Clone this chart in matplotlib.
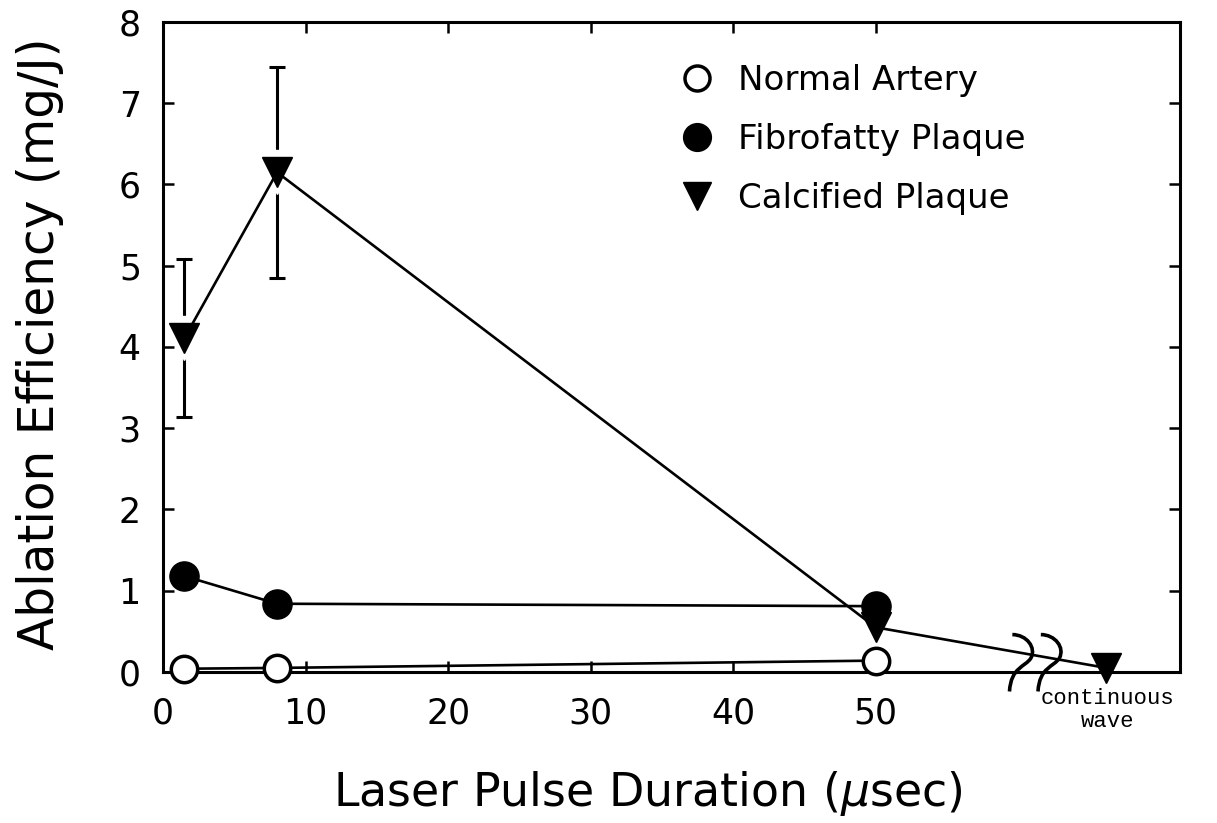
import matplotlib
matplotlib.use("Agg")
import matplotlib.pyplot as plt
from matplotlib.lines import Line2D
from matplotlib.path import Path
from matplotlib.patches import PathPatch

# ablation efficiency (mg/J) vs pulse duration (usec)
pulse_us = [1.5, 8, 50]
normal = [0.04, 0.05, 0.14]
fibrofatty = [1.18, 0.84, 0.81]
calcified = [4.11, 6.15, 0.55]
calcified_err = [0.97, 1.30, 0.0]
cw_pos = 66.2          # where "continuous wave" sits past the axis break
calcified_cw = 0.05
xticks = [0, 10, 20, 30, 40, 50]
yticks = [0, 1, 2, 3, 4, 5, 6, 7, 8]

plt.rcParams['font.family'] = ['DejaVu Sans']
fig = plt.figure(figsize=(12.17, 8.23), dpi=100)
ax = fig.add_axes([0.134, 0.1835, 0.836, 0.7898])

# error bars first, then a white halo so the bars stop short of the marker
ax.errorbar(pulse_us[:2], calcified[:2], yerr=calcified_err[:2], fmt='none',
            ecolor='k', elinewidth=2.2, capsize=6, capthick=2.2, zorder=1)
ax.plot(pulse_us[:2], calcified[:2], 'v', ms=31, mfc='w', mec='w', zorder=2,
        clip_on=False)

calc_x = pulse_us + [cw_pos]
calc_y = calcified + [calcified_cw]
ax.plot(calc_x, calc_y, '-', color='k', lw=1.9, zorder=3, clip_on=False)
ax.plot(calc_x, calc_y, 'v', ms=21, color='k', zorder=4, clip_on=False)

ax.plot(pulse_us, fibrofatty, '-', color='k', lw=1.9, zorder=3)
ax.plot(pulse_us, fibrofatty, 'o', ms=21, color='k', zorder=5, clip_on=False)

ax.plot(pulse_us, normal, '-', color='k', lw=1.9, zorder=3)
ax.plot(pulse_us, normal, 'o', ms=19, mfc='w', mec='k', mew=2.5, zorder=6,
        clip_on=False)

# axis break squiggles
def squiggle(x0):
    verts = [(x0, 0.46),
             (x0 + 1.0, 0.46), (x0 + 1.7, 0.30), (x0 + 1.3, 0.17),
             (x0 + 0.9, 0.06), (x0 - 0.1, 0.06), (x0 - 0.2, -0.24)]
    codes = [Path.MOVETO] + [Path.CURVE4] * 6
    ax.add_patch(PathPatch(Path(verts, codes), fill=False, lw=2.6,
                           ec='k', clip_on=False, zorder=7))

squiggle(59.6)
squiggle(61.6)

ax.text(cw_pos + 0.1, -0.2, 'continuous\nwave', ha='center', va='top',
        family='Liberation Mono', fontsize=16, linespacing=1.1)

ax.set_xlim(0, 71.4)
ax.set_ylim(0, 8)
ax.set_xticks(xticks)
ax.set_yticks(yticks)
ax.tick_params(direction='in', length=8, width=1.8, labelsize=25,
               top=True, right=True)
ax.tick_params(axis='x', pad=18)
ax.tick_params(axis='y', pad=16)
for s in ax.spines.values():
    s.set_linewidth(2.2)

ax.set_xlabel('Laser Pulse Duration ($\\mu$sec)', fontsize=33)
ax.xaxis.set_label_coords(0.476, -0.15)
ax.set_ylabel('Ablation Efficiency (mg/J)', fontsize=35)
ax.yaxis.set_label_coords(-0.097, 0.505)

handles = [
    Line2D([], [], ls='none', marker='o', ms=18, mfc='w', mec='k', mew=2.5),
    Line2D([], [], ls='none', marker='o', ms=20, color='k'),
    Line2D([], [], ls='none', marker='v', ms=20, color='k'),
]
ax.legend(handles, ['Normal Artery', 'Fibrofatty Plaque', 'Calcified Plaque'],
          loc='upper left', bbox_to_anchor=(0.508, 0.935), frameon=False,
          fontsize=24.5, handlelength=1.0, handletextpad=0.7,
          labelspacing=0.76, borderpad=0, borderaxespad=0)

fig.savefig('out.png', dpi=100)
